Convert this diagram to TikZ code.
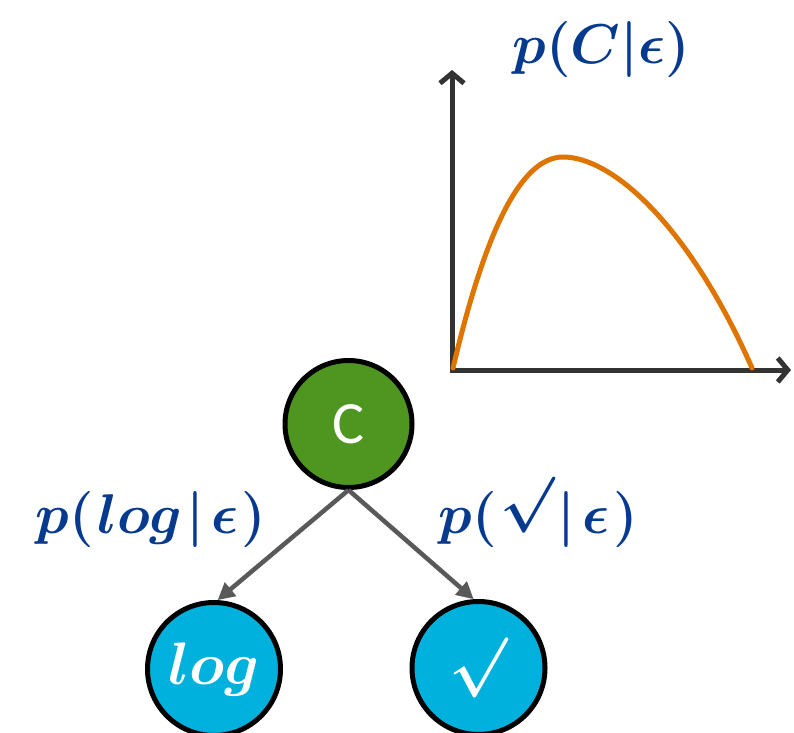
\RequirePackage{fix-cm}
\documentclass[tikz,border=0pt]{standalone}
\usepackage{fontspec}
\newfontfamily\calib{Carlito}
\usetikzlibrary{arrows.meta}
\definecolor{cgreen}{HTML}{4E961F}
\definecolor{leafblue}{HTML}{00B1DD}
\definecolor{labblue}{HTML}{063A8E}
\definecolor{edgegray}{HTML}{595959}
\definecolor{axisgray}{HTML}{333333}
\definecolor{corange}{HTML}{DE7500}
\begin{document}
\begin{tikzpicture}[x=1pt,y=1pt,
  circ/.style={circle, draw=black, line width=5pt, inner sep=0pt},
  leaf/.style={circ, fill=leafblue, minimum size=133pt, text=white, font=\fontsize{60}{60}\selectfont\boldmath},
  lab/.style={text=labblue, anchor=base, inner sep=0pt, font=\fontsize{56}{60}\selectfont\boldmath},
  edge/.style={draw=edgegray, line width=4.5pt, -{Triangle[length=17pt,width=17pt]}},
  axis/.style={draw=axisgray, line width=5pt, line join=miter, {Straight Barb[length=10pt,width=24pt]}-{Straight Barb[length=10pt,width=24pt]}},
  curve/.style={draw=corange, line width=5pt, line cap=round}]
\useasboundingbox (0,0) rectangle (794,732);
% axes and curve
\coordinate (O) at (452,362);
\coordinate (Ytop) at (452,662);
\coordinate (Xend) at (791,362);
\draw[axis] (Ytop) -- (O) -- (Xend);
\draw[curve] (453,364) .. controls (478,470) and (513,575) .. (563,575)
  .. controls (613,575) and (690,505) .. (752,364);
\node[lab] (title) at (601,668.5) {$p(C|\epsilon)$};
% tree
\node[circ, fill=cgreen, minimum size=127pt, text=white, font=\calib\fontsize{60}{60}\selectfont] (C) at (348.5,308) {C};
\node[leaf] (log) at (214,63) {$log$};
\node[leaf] (sq) at (478.5,64) {$\surd$};
\draw[edge] (C.south) -- (log.87);
\draw[edge] (C.south) -- (sq.94);
\node[lab] (l1) at (151,198.5) {$p(\mkern1mu log\mkern1mu|\mkern2mu\epsilon\mkern1mu)$};
\node[lab] (l2) at (538,198.5) {$p(\mkern1mu\raisebox{\depth}{$\surd$}\mkern1mu|\mkern2mu\epsilon\mkern1mu)$};
\end{tikzpicture}
\end{document}
